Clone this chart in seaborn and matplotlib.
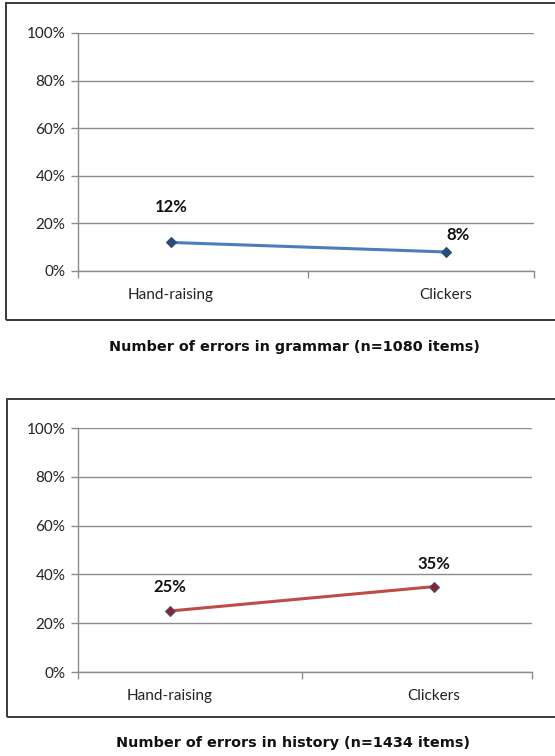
import matplotlib
matplotlib.use("Agg")
import matplotlib.pyplot as plt
import matplotlib.patches as mpatches
import pandas as pd
import seaborn as sns
from matplotlib.ticker import FixedLocator, FuncFormatter

# Data
methods = ["Hand-raising", "Clickers"]
grammar_errors = [12, 8]
history_errors = [25, 35]
y_ticks = [0, 20, 40, 60, 80, 100]
grammar_title = "Number of errors in grammar (n=1080 items)"
history_title = "Number of errors in history (n=1434 items)"

sns.set_theme(style="white")
plt.rcParams["font.family"] = ["Lato", "DejaVu Sans"]

W, H = 555, 756
fig = plt.figure(figsize=(W / 100, H / 100), dpi=100)
fig.patch.set_facecolor("white")


def px_axes(x0, y0, x1, y1):
    return fig.add_axes([x0 / W, 1 - y1 / H, (x1 - x0) / W, (y1 - y0) / H])


def frame(x0, y0, x1, y1):
    rect = mpatches.Rectangle((x0 / W, 1 - y1 / H), (x1 - x0) / W, (y1 - y0) / H,
                              transform=fig.transFigure, fill=False,
                              edgecolor="#3a3a3a", linewidth=1.4, zorder=0)
    fig.patches.append(rect)


def draw_panel(ax, values, xlim, line_color, marker_face, marker_edge,
               label_offsets):
    df = pd.DataFrame({"method": methods, "errors": values})
    sns.lineplot(data=df, x="method", y="errors", ax=ax, color=line_color,
                 linewidth=2.2, marker="D", markersize=5,
                 markerfacecolor=marker_face, markeredgecolor=marker_edge,
                 markeredgewidth=0.8, sort=False)
    ax.set_xlim(*xlim)
    ax.set_ylim(0, 100)
    ax.set_xlabel("")
    ax.set_ylabel("")
    ax.yaxis.set_major_locator(FixedLocator(y_ticks))
    ax.yaxis.set_major_formatter(FuncFormatter(lambda v, _: f"{int(v)}%"))
    ax.xaxis.set_minor_locator(FixedLocator([xlim[0], 0.5, xlim[1]]))
    ax.grid(axis="y", color="#8c8c8c", linewidth=1.0)
    ax.set_axisbelow(True)
    for side in ("top", "right"):
        ax.spines[side].set_visible(False)
    for side in ("left", "bottom"):
        ax.spines[side].set_color("#8c8c8c")
        ax.spines[side].set_linewidth(1.0)
    ax.tick_params(axis="y", which="major", direction="out", length=5,
                   width=1.0, color="#8c8c8c", labelsize=11, pad=4,
                   labelcolor="#222222", left=True)
    ax.tick_params(axis="x", which="major", length=0, labelsize=11,
                   pad=12, labelcolor="#222222")
    ax.tick_params(axis="x", which="minor", direction="out", length=5,
                   width=1.0, color="#8c8c8c", bottom=True)
    for i, (v, off) in enumerate(zip(values, label_offsets)):
        ax.annotate(f"{v}%", xy=(i, v), xytext=off, textcoords="offset pixels",
                    ha="center", va="center", fontsize=12,
                    fontweight="bold", color="#111111")


# Grammar panel
frame(6, 3, 570, 320)
ax1 = px_axes(78, 33, 534, 271)
draw_panel(ax1, grammar_errors, (-0.338, 1.32), "#4a7ebb", "#2c4d7a",
           "#2c4d7a", [(0, 35), (12, 17)])
fig.text(294 / W, 1 - 347 / H, grammar_title, ha="center", va="center",
         fontsize=10.4, fontweight="bold", family=["DejaVu Sans"],
         color="#111111")

# History panel
frame(7, 399, 570, 717)
ax2 = px_axes(78, 428, 532, 672)
draw_panel(ax2, history_errors, (-0.348, 1.371), "#be4b48", "#9b1c1f",
           "#385d8a", [(0, 24), (0, 23)])
fig.text(293 / W, 1 - 743 / H, history_title, ha="center", va="center",
         fontsize=10.4, fontweight="bold", family=["DejaVu Sans"],
         color="#111111")

fig.savefig("out.png", dpi=100, facecolor="white")
